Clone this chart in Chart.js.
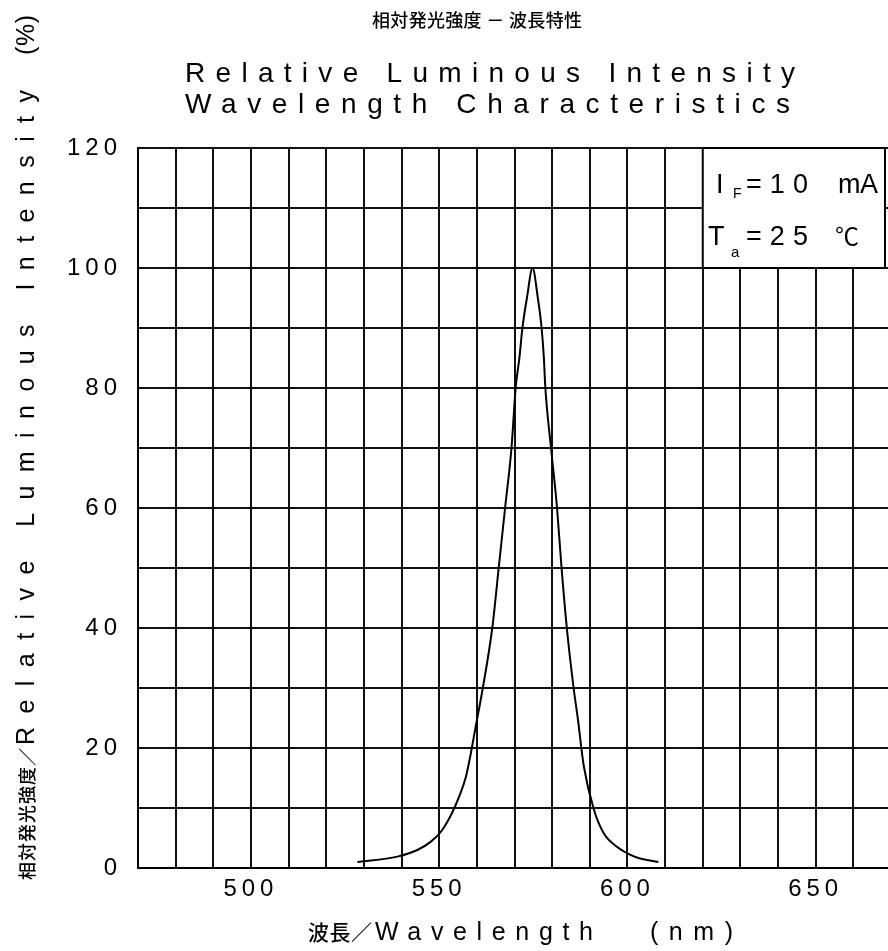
<!DOCTYPE html>
<html>
<head>
<meta charset="utf-8">
<script src="https://cdn.jsdelivr.net/npm/chart.js@4.4.1/dist/chart.umd.min.js"></script>
<style>
  html, body { margin: 0; padding: 0; background: #fff; overflow: hidden; }
  #wrap { width: 888px; height: 951px; overflow: hidden; }
  canvas { display: block; }
</style>
</head>
<body>
<div id="wrap"><canvas id="chart1" width="900" height="951"></canvas></div>
<script>
// spectrum (nm, %)
const wavelengths = [528.3, 538.9, 544.2, 547.8, 550.4, 553.1, 555.3, 557.1, 558.4, 559.7, 561.3,
  564.1, 565.8, 567.5, 569.2, 570.3, 571.3, 572.1, 573.3, 574.8, 576.2, 577.2, 577.8, 578.2,
  579.7, 581.3, 582.5, 583.9, 585.7, 586.8, 588.4, 591.1, 593.7, 597.3, 600.4, 602.7, 608.2];
const intensity = [1.0, 1.9, 3.0, 4.4, 6.0, 8.8, 11.9, 15.2, 19.1, 23.6, 29,
  40, 50, 60, 70, 80, 85, 90, 95, 100, 95, 90, 85, 80,
  70, 60, 50, 40, 30, 25, 17, 9.7, 5.8, 3.5, 2.3, 1.7, 1.0];

const xLabelValues = [500, 550, 600, 650];
const yLabelValues = [0, 20, 40, 60, 80, 100, 120];

const titleJa = '相対発光強度 － 波長特性';
const titleEn = ['Relative Luminous Intensity', 'Wavelength Characteristics'];
const yTitle = ['相対発光強度／', 'Relative Luminous Intensity', '(%)'];
const xTitle = ['波長／', 'Wavelength', '(nm)'];
const condition = { current: '10', temp: '25' };

const LATIN = '"Liberation Sans", Arial, sans-serif';
const JA = '"Noto Sans CJK JP", sans-serif';

// draw text spread so it runs from x0 to x1
function fitText(ctx, str, x0, x1, y) {
  ctx.letterSpacing = '0px';
  const w = ctx.measureText(str).width;
  const n = [...str].length;
  const ls = n > 1 ? (x1 - x0 - w) / (n - 1) : 0;
  ctx.letterSpacing = ls + 'px';
  ctx.textAlign = 'left';
  ctx.fillText(str, x0, y);
  ctx.letterSpacing = '0px';
}

const sheetText = {
  id: 'sheetText',
  beforeDraw(chart) {
    chart.ctx.letterSpacing = '5px';
  },
  afterDraw(chart) {
    const ctx = chart.ctx;
    const x = chart.scales.x, y = chart.scales.y;
    ctx.save();
    ctx.fillStyle = '#000';

    // titles
    ctx.textBaseline = 'middle';
    ctx.font = '500 18px ' + JA;
    fitText(ctx, titleJa, 372, 582, 20);
    ctx.textBaseline = 'alphabetic';
    ctx.font = '28px ' + LATIN;
    fitText(ctx, titleEn[0], 185, 795, 82);
    fitText(ctx, titleEn[1], 185, 790, 113);

    // x title
    ctx.font = '500 21px ' + JA;
    fitText(ctx, xTitle[0], 308, 372, 940);
    ctx.font = '25px ' + LATIN;
    fitText(ctx, xTitle[1], 375, 593, 940);
    fitText(ctx, xTitle[2], 650, 733, 940);

    // y title, rotated
    ctx.save();
    ctx.translate(27, 951);
    ctx.rotate(-Math.PI / 2);
    ctx.textBaseline = 'middle';
    ctx.font = '500 18px ' + JA;
    fitText(ctx, yTitle[0], 71, 203, 0);
    ctx.font = '25px ' + LATIN;
    fitText(ctx, yTitle[1], 206, 861, 0);
    fitText(ctx, yTitle[2], 896, 936, 0);
    ctx.restore();

    // condition box
    const bx0 = x.getPixelForValue(620), bx1 = x.getPixelForValue(668.4);
    const by0 = y.getPixelForValue(120), by1 = y.getPixelForValue(100);
    ctx.fillStyle = '#fff';
    ctx.fillRect(bx0, by0, bx1 - bx0, by1 - by0);
    ctx.strokeStyle = '#000';
    ctx.lineWidth = 2;
    ctx.strokeRect(bx0, by0, bx1 - bx0, by1 - by0);
    ctx.fillStyle = '#000';
    ctx.textBaseline = 'alphabetic';
    ctx.font = '27px ' + LATIN;
    fitText(ctx, 'I', 716, 724, 193);
    fitText(ctx, '=' + condition.current, 746, 808, 193);
    fitText(ctx, 'mA', 838, 878, 193);
    fitText(ctx, 'T', 708, 726, 245);
    fitText(ctx, '=' + condition.temp, 746, 808, 245);
    ctx.font = '14px ' + LATIN;
    fitText(ctx, 'F', 733, 742, 198);
    ctx.font = '15px ' + LATIN;
    fitText(ctx, 'a', 731, 740, 257);
    ctx.font = '24px ' + JA;
    fitText(ctx, '℃', 835, 858, 245);

    ctx.restore();
  }
};

new Chart(document.getElementById('chart1'), {
  type: 'line',
  data: {
    datasets: [{
      data: wavelengths.map((w, i) => ({ x: w, y: intensity[i] })),
      borderColor: '#000',
      borderWidth: 2,
      pointRadius: 0,
      fill: false,
      cubicInterpolationMode: 'monotone'
    }]
  },
  options: {
    responsive: false,
    animation: false,
    events: [],
    layout: { padding: { left: 0, top: 148, right: 9, bottom: 0 } },
    plugins: { legend: { display: false }, tooltip: { enabled: false } },
    scales: {
      x: {
        type: 'linear',
        min: 470,
        max: 670,
        afterFit: s => { s.height = 83; },
        border: { color: '#000', width: 2 },
        grid: { color: '#111', lineWidth: 2, drawTicks: false },
        ticks: {
          stepSize: 10,
          autoSkip: false,
          maxRotation: 0,
          padding: 7,
          color: '#000',
          font: { family: LATIN, size: 24 },
          callback: v => xLabelValues.includes(v) ? String(v) : ''
        }
      },
      y: {
        min: 0,
        max: 120,
        afterFit: s => { s.width = 138; },
        border: { color: '#000', width: 2 },
        grid: { color: '#111', lineWidth: 2, drawTicks: false },
        ticks: {
          stepSize: 10,
          autoSkip: false,
          padding: 16,
          color: '#000',
          font: { family: LATIN, size: 24 },
          callback: v => yLabelValues.includes(v) ? String(v) : ''
        }
      }
    }
  },
  plugins: [sheetText]
});
</script>
</body>
</html>
